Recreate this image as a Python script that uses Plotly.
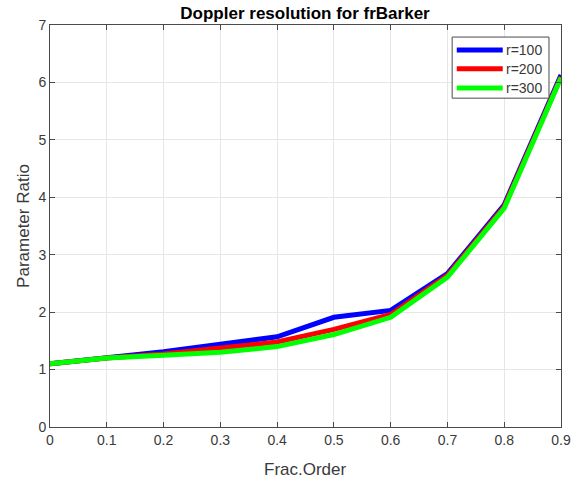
import plotly.graph_objects as go

frac_order = [0, 0.1, 0.2, 0.3, 0.4, 0.5, 0.6, 0.7, 0.8, 0.9]
x_tick_text = ["0", "0.1", "0.2", "0.3", "0.4", "0.5", "0.6", "0.7", "0.8", "0.9"]
y_tick_vals = [0, 1, 2, 3, 4, 5, 6, 7]
ratio_r100 = [1.10, 1.20, 1.31, 1.44, 1.57, 1.91, 2.03, 2.67, 3.87, 6.13]
ratio_r200 = [1.10, 1.20, 1.27, 1.37, 1.48, 1.70, 1.96, 2.64, 3.84, 6.10]
ratio_r300 = [1.10, 1.20, 1.25, 1.30, 1.40, 1.61, 1.91, 2.61, 3.81, 6.08]

series = [
    ("r=100", ratio_r100, "#0000ff"),
    ("r=200", ratio_r200, "#ff0000"),
    ("r=300", ratio_r300, "#00ff00"),
]

FONT = "Liberation Sans, Arial"
TEXT_GRAY = "#3a3a3a"
EDGE = "#4a4a4a"

fig = go.Figure()
for name, vals, color in series:
    fig.add_trace(go.Scatter(
        x=frac_order, y=vals, mode="lines", name=name,
        line=dict(color=color, width=5), showlegend=False,
    ))

# MATLAB-style legend box in the upper-right corner, with long line samples
fig.add_shape(type="rect", xref="paper", yref="paper",
              x0=0.787, x1=0.9765, y0=0.818, y1=0.970,
              fillcolor="white", line=dict(color=EDGE, width=1), layer="above")
entry_y = [0.938, 0.891, 0.843]
for (name, _, color), yy in zip(series, entry_y):
    fig.add_shape(type="line", xref="paper", yref="paper",
                  x0=0.796, x1=0.886, y0=yy, y1=yy,
                  line=dict(color=color, width=5), layer="above")
    fig.add_annotation(xref="paper", yref="paper", x=0.889, y=yy,
                       text=name, showarrow=False, xanchor="left", yanchor="middle",
                       font=dict(family=FONT, size=14, color=TEXT_GRAY))

# x-axis label, placed a little lower than plotly's margin-constrained title
fig.add_annotation(xref="paper", yref="paper", x=0.5, y=-0.105,
                   text="Frac.Order", showarrow=False,
                   xanchor="center", yanchor="middle", borderpad=0,
                   font=dict(family=FONT, size=17, color=TEXT_GRAY))

axis_common = dict(
    showline=True, linecolor=EDGE, linewidth=1, mirror="ticks",
    ticks="inside", ticklen=5, tickcolor=EDGE,
    showgrid=True, gridcolor="#e6e6e6", gridwidth=1,
    zeroline=False, automargin=False,
    tickfont=dict(family=FONT, size=14, color=TEXT_GRAY),
    title_font=dict(family=FONT, size=17, color=TEXT_GRAY),
)

fig.update_layout(
    width=581, height=479,
    margin=dict(l=50, r=20, t=25, b=52),
    paper_bgcolor="white", plot_bgcolor="white",
    title=dict(
        text="<b>Doppler resolution for frBarker</b>",
        x=0.525, xanchor="center", y=0.973, yanchor="middle",
        font=dict(family=FONT, size=17, color="black"),
    ),
    xaxis=dict(
        range=[0, 0.9], tickmode="array",
        tickvals=frac_order, ticktext=x_tick_text,
        **axis_common,
    ),
    yaxis=dict(
        range=[0, 7], tickmode="array", tickvals=y_tick_vals,
        title=dict(text="Parameter Ratio", standoff=4),
        **axis_common,
    ),
    showlegend=False,
)

fig.write_html("out.html")
